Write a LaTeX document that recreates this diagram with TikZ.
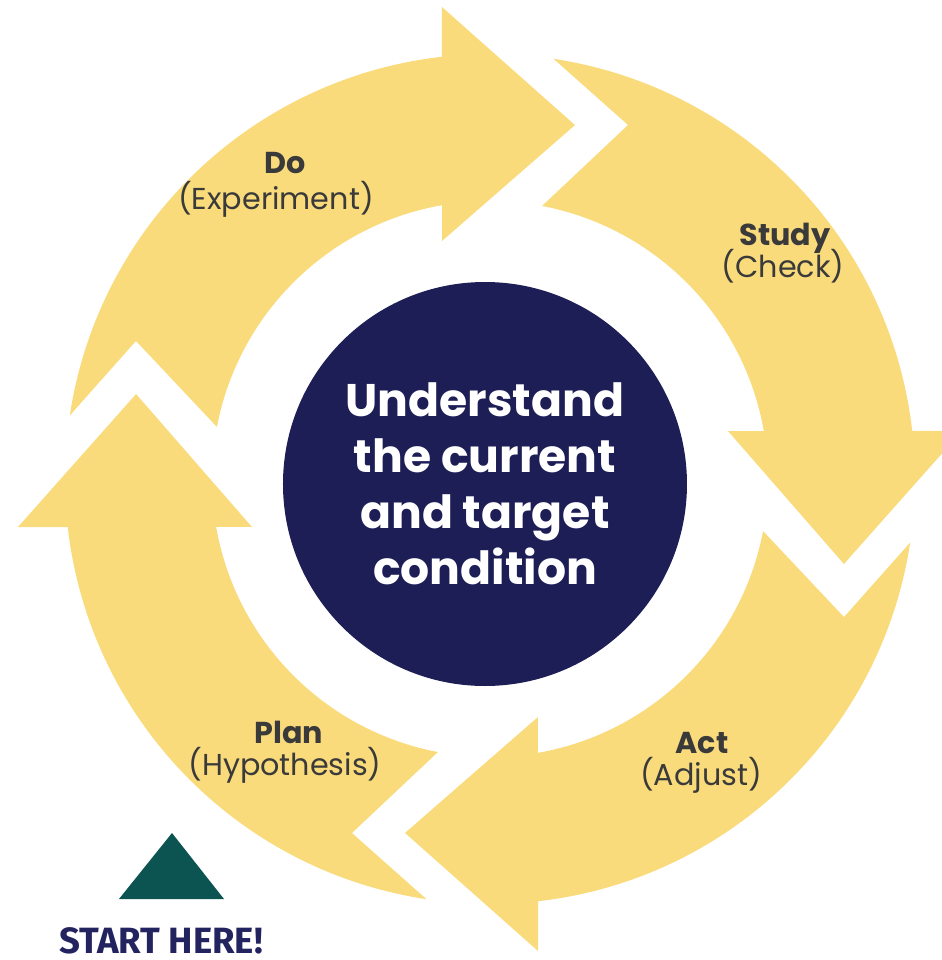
\documentclass[tikz,border=0pt]{standalone}
\usepackage{fontspec}
\setmainfont{Poppins}
\newfontfamily\startfont{Fira Sans}

\definecolor{pdsa}{HTML}{F9DB7C}
\definecolor{hubblue}{HTML}{1D1E55}
\definecolor{labelgray}{HTML}{3A3A3A}
\definecolor{startgreen}{HTML}{0B5451}
\definecolor{startblue}{HTML}{232360}

\begin{document}
\begin{tikzpicture}[
  phase/.style={anchor=base, text=labelgray, font=\fontsize{8.6}{10}\selectfont\bfseries},
  phasenote/.style={anchor=base, text=labelgray, font=\fontsize{8.6}{10}\selectfont},
  hubnode/.style={circle, fill=hubblue, minimum size=4.04cm, inner sep=0pt, text=white,
    align=center, font=\fontsize{13}{15.9}\selectfont\bfseries}]
  \useasboundingbox (-4.90,-4.81) rectangle (4.52,4.79);
  \clip (-4.90,-4.81) rectangle (4.52,4.79);

  % four curved arrows round the ring
  \foreach \r in {0,-90,-180,-270}
    \fill[pdsa, rotate=\r] (171.4:4.25) arc[start angle=171.4, end angle=96.5, radius=4.25]
      -- (-0.48,4.72) -- (76.5:3.64) -- (-0.48,2.38) -- (99.9:2.78)
      arc[start angle=99.9, end angle=169.2, radius=2.78] -- (158.7:3.80) -- cycle;

  \node[hubnode] (core) at (-0.05,-0.05) {Understand\\the current\\and target\\condition};

  \node[phase] (do) at (-2.05,3.06) {Do};
  \node[phasenote] (do-note) at (-2.14,2.70) {(Experiment)};
  \node[phase] (study) at (2.95,2.34) {Study};
  \node[phasenote] (study-note) at (2.93,2.02) {(Check)};
  \node[phase] (act) at (2.12,-2.74) {Act};
  \node[phasenote] (act-note) at (2.11,-3.06) {(Adjust)};
  \node[phase] (plan) at (-2.01,-2.64) {Plan};
  \node[phasenote] (plan-note) at (-2.05,-2.96) {(Hypothesis)};

  % start marker
  \fill[startgreen] (-3.71,-4.20) -- (-2.66,-4.20) -- (-3.18,-3.54) -- cycle;
  \node[anchor=base, text=startblue, font=\startfont\fontsize{10.4}{12}\selectfont\bfseries]
    (start) at (-3.29,-4.74) {START HERE!};
\end{tikzpicture}
\end{document}
